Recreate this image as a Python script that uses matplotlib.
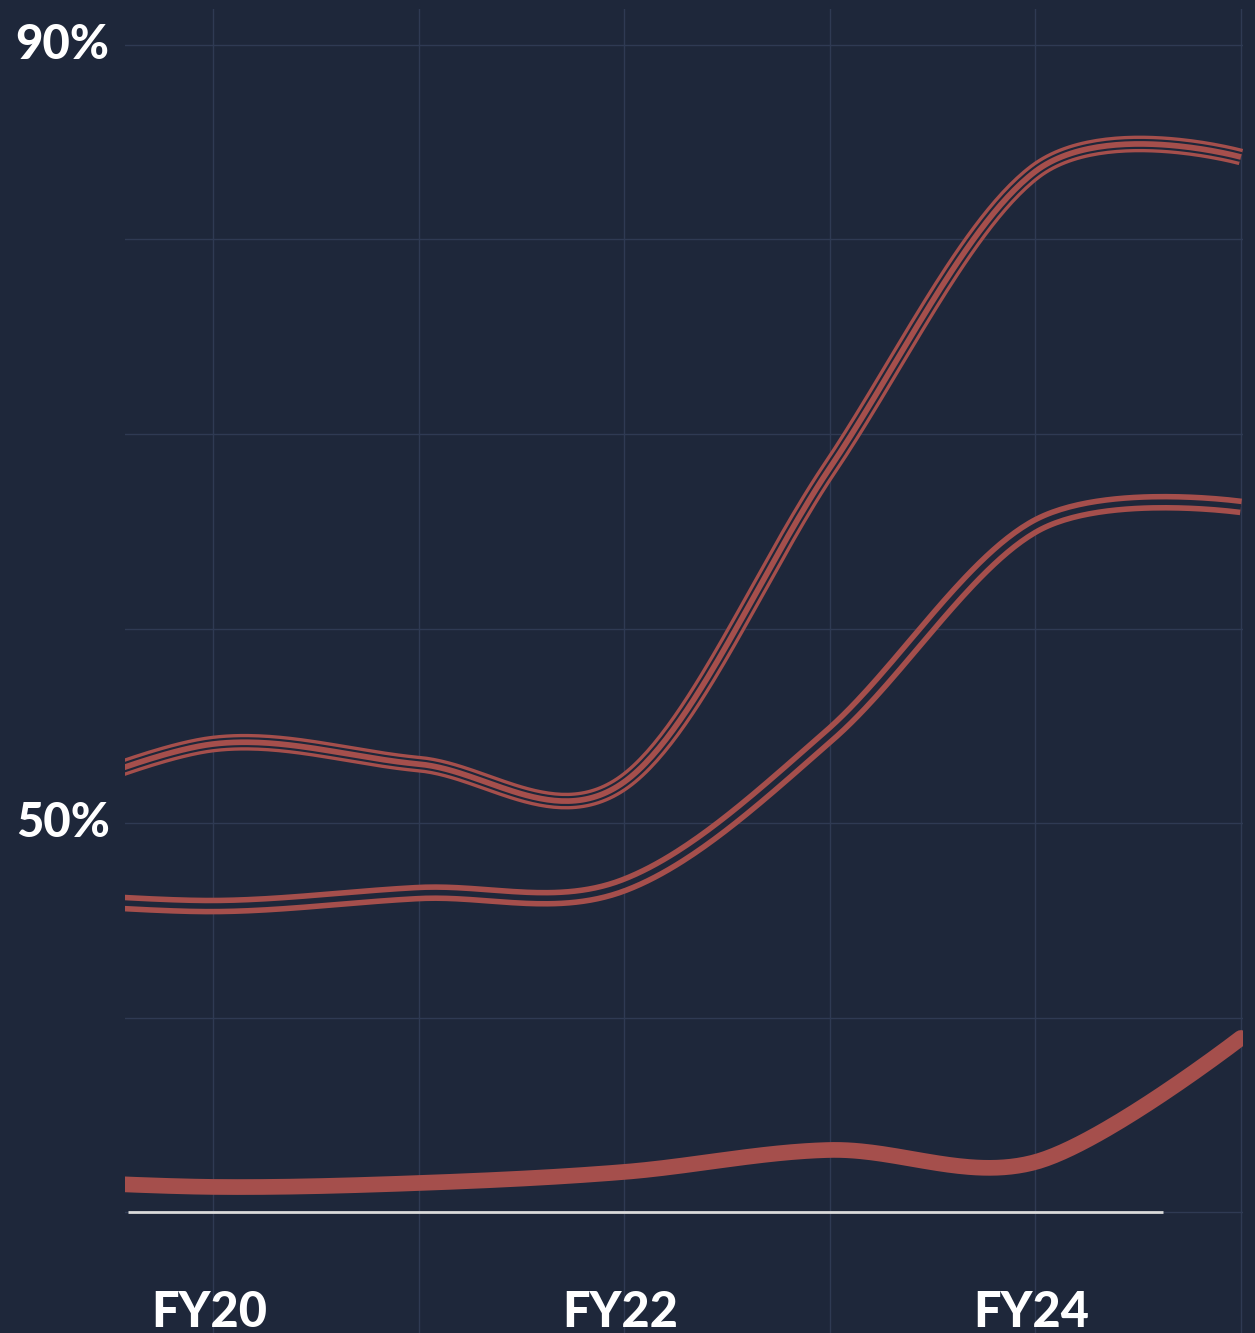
import numpy as np
import matplotlib
matplotlib.use('Agg')
from matplotlib import pyplot as plt
import matplotlib.transforms as mtransforms

# values (percent), one point per fiscal year
years = [19, 20, 21, 22, 23, 24, 25]
series_top = [50.5, 54.06, 53.03, 52.11, 68.25, 83.5, 84.24]
series_mid = [46.3, 45.73, 46.40, 46.81, 54.52, 65.27, 66.25]
series_low = [31.7, 31.29, 31.49, 32.06, 33.19, 32.57, 38.95]

grid_years = [20, 21, 22, 23, 24, 25]
year_labels = ['FY20', '', 'FY22', '', 'FY24', '']
grid_pct = [30, 40, 50, 60, 70, 80, 90]
pct_labels = {50: '50%', 90: '90%'}
baseline_pct = 30
baseline_end = 24.62

bg = '#1e273a'
grid_col = '#2f3a53'
red = '#a54f4c'


def cardinal_curve(x, y, n=60):
    # cardinal spline (tension 0) drawn as bezier pieces, ends use the end point as control
    p = np.column_stack([x, y]).astype(float)
    k = len(p)
    t = np.linspace(0, 1, n)[:, None]
    out = []
    for i in range(k - 1):
        p1, p2 = p[i], p[i + 1]
        c1 = p1 + (p2 - p[i - 1]) / 6 if i > 0 else p1
        c2 = p2 - (p[i + 2] - p1) / 6 if i + 2 < k else p2
        seg = (1 - t) ** 3 * p1 + 3 * (1 - t) ** 2 * t * c1 + 3 * (1 - t) * t ** 2 * c2 + t ** 3 * p2
        out.append(seg if i == 0 else seg[1:])
    out = np.vstack(out)
    return out[:, 0], out[:, 1]


fig = plt.figure(figsize=(12.55, 13.33), dpi=100, facecolor=bg)
ax = fig.add_axes([125 / 1255, 0, 1118 / 1255, 1324 / 1333])
ax.set_facecolor(bg)
ax.set_xlim(19.572, 25.01)
ax.set_ylim(23.78, 91.85)
for s in ax.spines.values():
    s.set_visible(False)

ax.set_xticks(grid_years)
ax.set_xticklabels([])
ax.set_yticks(grid_pct)
ax.set_yticklabels([pct_labels.get(v, '') for v in grid_pct])
ax.tick_params(length=0, pad=11)
ax.tick_params(axis='y', labelsize=34, labelcolor='white')
for lab in ax.get_yticklabels():
    lab.set_fontfamily('Lato')
    lab.set_fontweight('black')
    lab.set_verticalalignment('center')
ax.grid(True, color=grid_col, lw=1.0)
ax.set_axisbelow(True)

# x labels sit inside the plot at the bottom
trans = mtransforms.blended_transform_factory(ax.transData, ax.transData)
for yr, lab in zip(grid_years, year_labels):
    if lab:
        ax.text(yr - 0.02, 24.09, lab, ha='center', va='baseline', color='white',
                fontsize=35, fontweight='black', family='Lato', transform=trans)

# baseline
ax.plot([19.585, baseline_end], [baseline_pct, baseline_pct], color='#dadada', lw=2.0,
        solid_capstyle='butt', zorder=3)

# top series: red / dark / red stripes
xs, ys = cardinal_curve(years, series_top)
ax.plot(xs, ys, color=red, lw=12, solid_capstyle='butt', zorder=4)
ax.plot(xs, ys, color=bg, lw=7.2, solid_capstyle='butt', zorder=5)
ax.plot(xs, ys, color=red, lw=4.1, solid_capstyle='butt', zorder=6)

# middle series: red with dark core
xs, ys = cardinal_curve(years, series_mid)
ax.plot(xs, ys, color=red, lw=12, solid_capstyle='butt', zorder=4)
ax.plot(xs, ys, color=bg, lw=4.0, solid_capstyle='butt', zorder=5)

# bottom series: solid thick line
xs, ys = cardinal_curve(years, series_low)
ax.plot(xs, ys, color=red, lw=11.3, solid_capstyle='round', zorder=4)

fig.savefig('out.png', dpi=100, facecolor=bg)
